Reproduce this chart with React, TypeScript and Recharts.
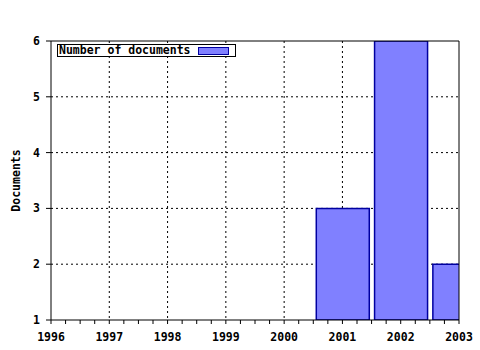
import React from 'react';
import { ComposedChart, Bar, XAxis, YAxis, CartesianGrid, Legend } from 'recharts';

const years = [1996, 1997, 1998, 1999, 2000, 2001, 2002, 2003];
const documents = [0, 0, 0, 0, 0, 3, 6, 2];
const yTicks = [1, 2, 3, 4, 5, 6];
const seriesName = 'Number of documents';
const yLabel = 'Documents';

const data = years.map((year, i) => ({ year, docs: documents[i] > 0 ? documents[i] : null }));
const minorTicks = years.flatMap((y, i) =>
  i < years.length - 1 ? [y, y + 0.25, y + 0.5, y + 0.75] : [y]
);
const gridYears = years.slice(1, -1);
const gridValues = yTicks.slice(1, -1);

const FONT = '"DejaVu Sans Mono", monospace';
const FILL = '#8080ff';
const EDGE = '#0000a0';

const textStyle = { fontFamily: FONT, fontWeight: 700, fontSize: 11.5, fill: '#000' };

const MajorTick = (props: any) => {
  const { x, y, payload } = props;
  if (!Number.isInteger(payload.value)) return <g />;
  return (
    <text x={x} y={y} dy="0.71em" textAnchor="middle" {...textStyle}>
      {payload.value}
    </text>
  );
};

const LegendBox = () => (
  <div
    style={{
      position: 'relative',
      width: 179,
      height: 13,
      boxSizing: 'border-box',
      border: '1px solid #000',
      background: '#fff',
      fontFamily: FONT,
      fontWeight: 700,
      fontSize: 11.5,
      lineHeight: '11px',
      color: '#000',
    }}
  >
    <span style={{ position: 'absolute', left: 1, top: 0, whiteSpace: 'nowrap' }}>{seriesName}</span>
    <span
      style={{
        position: 'absolute',
        left: 140,
        top: 2,
        width: 31,
        height: 8,
        boxSizing: 'border-box',
        background: FILL,
        border: `1px solid ${EDGE}`,
      }}
    />
  </div>
);

const YLabel = (p: any) => {
  const vb = p.viewBox;
  const cx = vb.x + 15.5;
  const cy = vb.y + vb.height / 2;
  return (
    <text
      x={cx}
      y={cy}
      transform={`rotate(-90 ${cx} ${cy})`}
      textAnchor="middle"
      dominantBaseline="central"
      {...textStyle}
    >
      {yLabel}
    </text>
  );
};

export default function App() {
  return (
    <div style={{ position: 'absolute', left: 0, top: 0, width: 480, height: 350, background: '#fff' }}>
      <ComposedChart width={480} height={350} data={data} margin={{ top: 36, right: 20, bottom: 0, left: 0 }}>
        <CartesianGrid
          stroke="#000"
          strokeDasharray="2 3"
          verticalValues={gridYears}
          horizontalValues={gridValues}
        />
        <XAxis
          dataKey="year"
          type="number"
          domain={[1996, 2003]}
          ticks={minorTicks}
          interval={0}
          allowDataOverflow
          height={30}
          tickSize={4}
          tickMargin={9}
          axisLine={{ stroke: '#000' }}
          tickLine={{ stroke: '#000' }}
          tick={MajorTick}
        />
        <XAxis
          xAxisId="top"
          orientation="top"
          dataKey="year"
          type="number"
          domain={[1996, 2003]}
          ticks={minorTicks}
          interval={0}
          allowDataOverflow
          height={5}
          tickSize={3}
          tick={false}
          axisLine={{ stroke: '#000' }}
          tickLine={{ stroke: '#000' }}
        />
        <YAxis
          type="number"
          domain={[1, 6]}
          ticks={yTicks}
          interval={0}
          allowDataOverflow
          width={51}
          tickSize={5}
          tickMargin={6}
          axisLine={{ stroke: '#000' }}
          tickLine={{ stroke: '#000' }}
          tick={textStyle}
          label={{ content: YLabel }}
        />
        <YAxis
          yAxisId="right"
          orientation="right"
          type="number"
          domain={[1, 6]}
          width={1}
          tick={false}
          tickLine={false}
          axisLine={{ stroke: '#000' }}
        />
        <Legend
          layout="horizontal"
          verticalAlign="middle"
          align="center"
          wrapperStyle={{ left: 57, top: 44, width: 'auto', height: 'auto' }}
          content={LegendBox}
        />
        <Bar
          dataKey="docs"
          name={seriesName}
          barSize={53}
          fill={FILL}
          stroke={EDGE}
          strokeWidth={1.5}
          isAnimationActive={false}
        />
      </ComposedChart>
    </div>
  );
}
